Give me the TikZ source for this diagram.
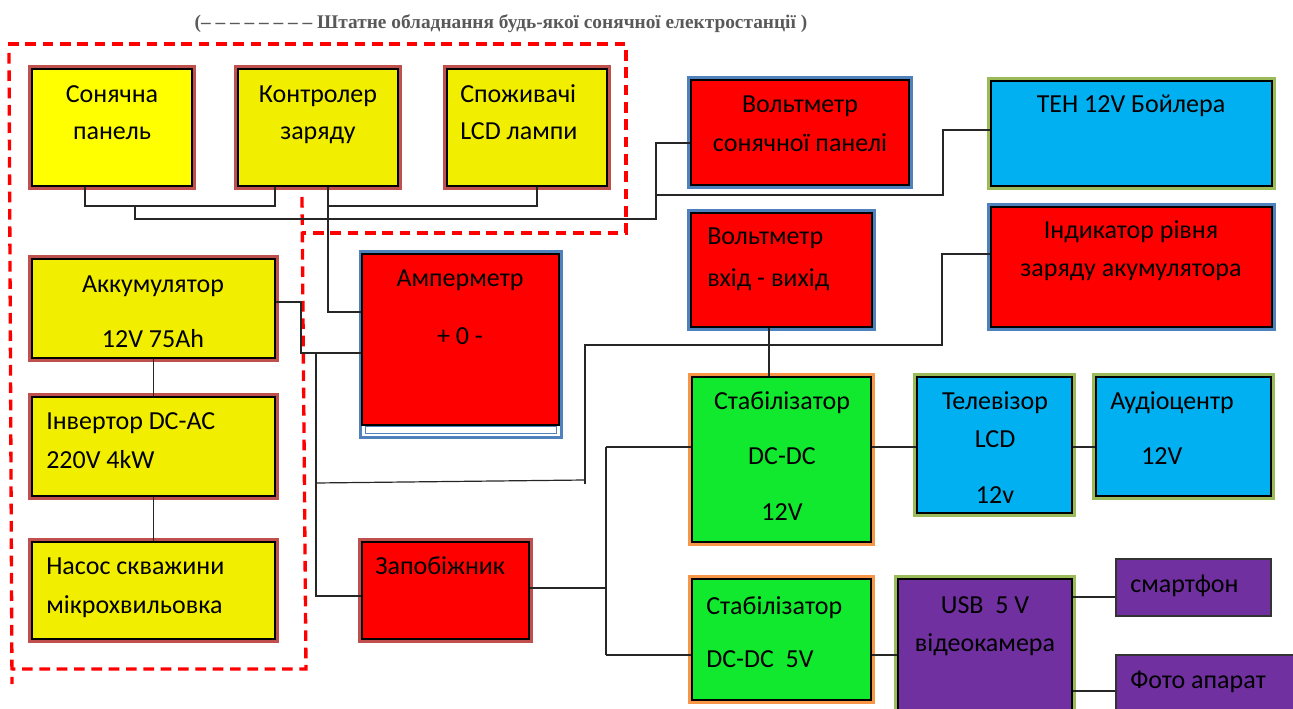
\documentclass[tikz,border=0pt]{standalone}
\usepackage{fontspec}
\setmainfont{Carlito}
\newfontfamily\titlefont{Liberation Serif}
\usetikzlibrary{fit}
\definecolor{yelA}{HTML}{FFFF00}
\definecolor{yelB}{HTML}{F2EE00}
\definecolor{redF}{HTML}{FF0000}
\definecolor{blueF}{HTML}{00B0F0}
\definecolor{greenF}{HTML}{11E92F}
\definecolor{purF}{HTML}{7030A0}
\definecolor{bRed}{HTML}{C0504D}
\definecolor{bBlue}{HTML}{4F81BD}
\definecolor{bGreen}{HTML}{9BBB59}
\definecolor{bOrange}{HTML}{F79646}
\definecolor{titleGray}{HTML}{595959}
\tikzset{
  blk/.style 2 args={draw=black, line width=1pt, inner sep=0pt, fill=#1,
    preaction={draw=#2, line width=6pt}},
  thinblk/.style={draw=black!80, line width=1pt, inner sep=0pt, fill=#1},
  wire/.style={draw=black!85, line width=0.9pt},
  reddash/.style={draw=red, line width=2.5pt, dash pattern=on 8pt off 5pt},
  txt/.style={inner sep=0pt, anchor=base, font=\fontsize{19.5pt}{23pt}\selectfont},
  txtl/.style={inner sep=0pt, anchor=base west, font=\fontsize{19.5pt}{23pt}\selectfont},
}
\begin{document}
\begin{tikzpicture}[x=0.75pt,y=-0.75pt]
\useasboundingbox (0,0) rectangle (1293,709);
% title
\node[inner sep=0pt, anchor=base, text=titleGray, font=\titlefont\bfseries\fontsize{14.5pt}{16pt}\selectfont] (title) at (501,29)
  {(– – – – – – – – Штатне обладнання будь-якої сонячної електростанції )};
% ammeter background frame
\fill[bBlue] (359,250) rectangle (563,439);
\fill[white] (362,254) rectangle (560,436);
\draw[bBlue, line width=0.6pt] (365,426) rectangle (556,433);
% boxes
\node[blk={yelA}{bRed}, fit={(32,69) (192,186)}] (son) {};
\node[blk={yelB}{bRed}, fit={(238,69) (398,186)}] (kon) {};
\node[blk={yelB}{bRed}, fit={(447,69) (607,186)}] (spo) {};
\node[blk={redF}{bBlue}, fit={(691,80) (909,185)}] (vsp) {};
\node[blk={blueF}{bGreen}, fit={(991,81) (1272,186)}] (ten) {};
\node[blk={redF}{bBlue}, fit={(691,213) (872,327)}] (vvv) {};
\node[blk={redF}{bBlue}, fit={(991,207) (1272,327)}] (ind) {};
\node[blk={yelB}{bRed}, fit={(32,259) (275,358)}] (akk) {};
\node[blk={yelB}{bRed}, fit={(32,397) (275,496)}] (inv) {};
\node[blk={yelB}{bRed}, fit={(32,542) (275,639)}] (nas) {};
\node[draw=black, line width=1pt, inner sep=0pt, fill=redF, fit={(362,254) (559,425)}] (amp) {};
\node[blk={redF}{bRed}, fit={(362,542) (529,639)}] (zap) {};
\node[blk={greenF}{bOrange}, fit={(692,377) (871,542)}] (st12) {};
\node[blk={blueF}{bGreen}, fit={(917,377) (1072,513)}] (tv) {};
\node[blk={blueF}{bGreen}, fit={(1096,377) (1271,496)}] (aud) {};
\node[blk={greenF}{bOrange}, fit={(692,579) (871,700)}] (st5) {};
\node[blk={purF}{bGreen}, fit={(898,579) (1072,720)}] (usb) {};
\node[thinblk={purF}, fit={(1116,559) (1271,616)}] (sma) {};
\node[thinblk={purF}, fit={(1116,655) (1300,720)}] (foto) {};
% red dashed frame
\draw[reddash] (8,44) -- (626,44) -- (626,233) -- (302,233);
\draw[reddash] (302,197) -- (306,669) -- (12,669);
\draw[reddash] (9,53) -- (12,684);
% junction coordinates
\coordinate (j1) at (85,206);
\coordinate (j2) at (275,206);
\coordinate (j3) at (135,206);
\coordinate (j4) at (135,219);
\coordinate (j5) at (656,219);
\coordinate (j6) at (656,143);
\coordinate (j7) at (656,195);
\coordinate (j8) at (943,195);
\coordinate (j9) at (943,130);
\coordinate (j10) at (328,312);
\coordinate (j11) at (328,206);
\coordinate (j12) at (537,206);
\coordinate (j13) at (301,302);
\coordinate (j14) at (301,353);
\coordinate (j15) at (316,353);
\coordinate (j16) at (316,596);
\coordinate (j17) at (316,483);
\coordinate (j18) at (585,480);
\coordinate (j18b) at (585,484);
\coordinate (j19) at (585,345);
\coordinate (j20) at (942,345);
\coordinate (j21) at (942,254);
\coordinate (j22) at (769,300);
\coordinate (j23) at (606,588);
\coordinate (j24) at (606,447);
\coordinate (j25) at (606,655);
\coordinate (j26) at (1100,597);
\coordinate (j27) at (1100,691);
% wires
\draw[wire] (son.south -| j1) -- (j1) -- (j2) -- (kon.south -| j2);
\draw[wire] (j3) -- (j4) -- (j5) -- (j6) -- (vsp.west |- j6);
\draw[wire] (j7) -- (j8) -- (j9) -- (ten.west |- j9);
\draw[wire] (kon.south -| j10) -- (j10) -- (amp.west |- j10);
\draw[wire] (j11) -- (j12) -- (spo.south -| j12);
\draw[wire] (akk.east |- j13) -- (j13) -- (j14) -- (amp.west |- j14);
\draw[wire] (j15) -- (j16) -- (zap.west |- j16);
\draw[wire] (j17) -- (j18);
\draw[wire] (j18b) -- (j19) -- (j20) -- (j21) -- (ind.west |- j21);
\draw[wire] (akk.south) -- (inv.north);
\draw[wire] (inv.south) -- (nas.north);
\draw[wire] (vvv.south -| j22) -- (st12.north -| j22);
\draw[wire] (zap.east |- j23) -- (j23);
\draw[wire] (j24) -- (j25);
\draw[wire] (j24) -- (st12.west |- j24);
\draw[wire] (j25) -- (st5.west |- j25);
\draw[wire] (st12.east |- j24) -- (tv.west |- j24);
\draw[wire] (tv.east |- j24) -- (aud.west |- j24);
\draw[wire] (st5.east |- j25) -- (usb.west |- j25);
\draw[wire] (usb.east |- j26) -- (sma.west |- j26);
\draw[wire] (usb.east |- j27) -- (foto.west |- j27);
% texts
\node[txt] (son-a) at (112,103) {Сонячна};
\node[txt] (son-b) at (112,140) {панель};
\node[txt] (kon-a) at (318,103) {Контролер};
\node[txt] (kon-b) at (318,140) {заряду};
\node[txtl] (spo-a) at (460,103) {Споживачі};
\node[txtl] (spo-b) at (460,140) {LCD лампи};
\node[txt] (vsp-a) at (800,113) {Вольтметр};
\node[txt] (vsp-b) at (800,152) {сонячної панелі};
\node[txt] (ten-a) at (1131,113) {ТЕН 12V Бойлера};
\node[txtl] (vvv-a) at (707,245) {Вольтметр};
\node[txtl] (vvv-b) at (707,287) {вхід - вихід};
\node[txt] (ind-a) at (1131,239) {Індикатор рівня};
\node[txt] (ind-b) at (1131,277) {заряду акумулятора};
\node[txt] (akk-a) at (153,293) {Аккумулятор};
\node[txt] (akk-b) at (153,348) {12V 75Ah};
\node[txtl] (inv-a) at (46,430) {Інвертор DC-AC};
\node[txtl] (inv-b) at (46,468) {220V 4kW};
\node[txtl] (nas-a) at (46,574) {Насос скважини};
\node[txtl] (nas-b) at (46,613) {мікрохвильовка};
\node[txt] (amp-a) at (460,287) {Амперметр};
\node[txt] (amp-b) at (460,345) {+ 0 -};
\node[txtl] (zap-a) at (375,574) {Запобіжник};
\node[txt] (st12-a) at (782,410) {Стабілізатор};
\node[txt] (st12-b) at (782,464) {DC-DC};
\node[txt] (st12-c) at (782,520) {12V};
\node[txt] (tv-a) at (995,410) {Телевізор};
\node[txt] (tv-b) at (995,447) {LCD};
\node[txt] (tv-c) at (995,503) {12v};
\node[txtl] (aud-a) at (1110,410) {Аудіоцентр};
\node[txtl] (aud-b) at (1141,464) {12V};
\node[txtl] (st5-a) at (706,614) {Стабілізатор};
\node[txtl] (st5-b) at (706,667) {DC-DC\ \ 5V};
\node[txt] (usb-a) at (985,613) {USB\ \ 5 V};
\node[txt] (usb-b) at (985,651) {відеокамера};
\node[txtl] (sma-a) at (1130,592) {смартфон};
\node[txtl] (foto-a) at (1130,688) {Фото апарат};
\end{tikzpicture}
\end{document}
